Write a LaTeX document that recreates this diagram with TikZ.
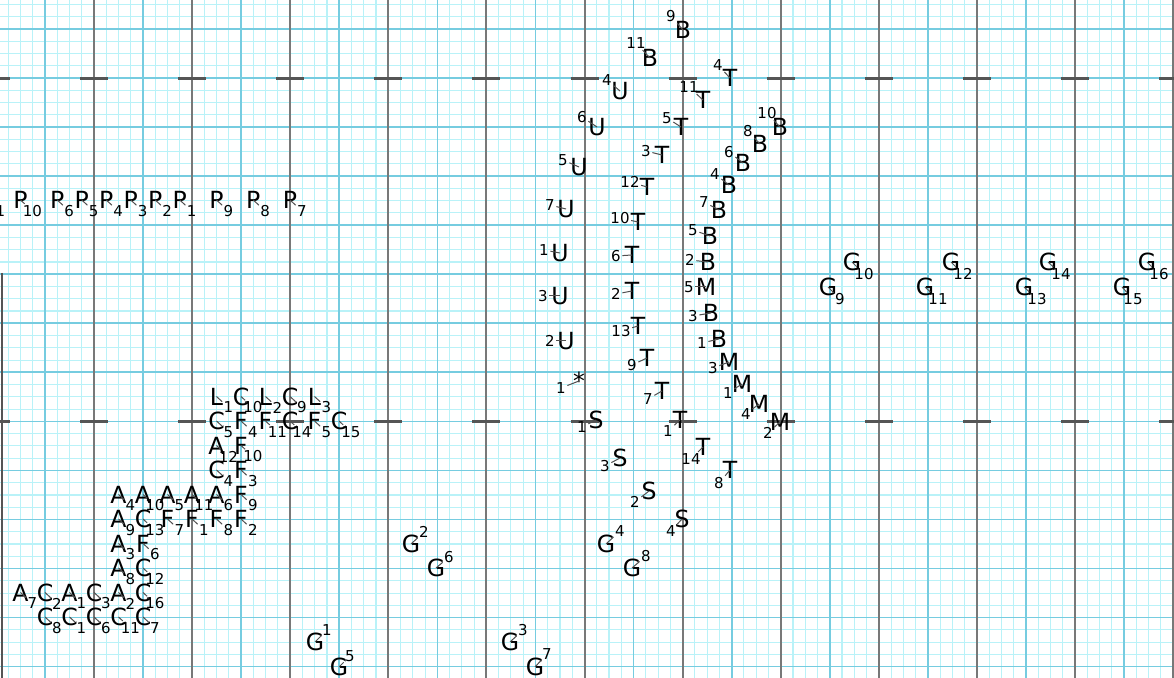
\documentclass[tikz,border=0pt]{standalone}
\usepackage{fontspec}
\setmainfont{DejaVu Sans}
\definecolor{gminor}{RGB}{185,242,248}
\definecolor{gmajor}{RGB}{118,204,224}
\definecolor{ggrey}{RGB}{120,120,120}
\definecolor{gtick}{RGB}{85,85,85}
\definecolor{glead}{RGB}{80,80,80}
\tikzset{
  glyph/.style={inner sep=0pt, font=\fontsize{11.8}{12}\selectfont, text=black},
  numlab/.style={inner sep=0.6pt, font=\fontsize{7.5}{8}\selectfont, text=black},
  lead/.style={draw=glead, line width=0.5pt},
  minorline/.style={draw=gminor, line width=0.55pt},
  majorline/.style={draw=gmajor, line width=0.85pt},
  greyline/.style={draw=ggrey, line width=1pt},
  tickline/.style={draw=gtick, line width=1.5pt}
}
% absolute label position
\newcommand\gl[5]{%
  \node[glyph] (#1) at (#2) {#3};
  \node[numlab] (#1l) at (#4) {#5};
  \draw[lead] (#1.center) -- (#1l);}
% subscript label (lower right)
\newcommand\gs[4]{%
  \node[glyph] (#1) at (#2) {#3};
  \node[numlab] (#1l) at ([shift={(12,11)}]#1.center) {#4};
  \draw[lead] (#1.center) -- (#1l);}
\begin{document}
\begin{tikzpicture}[x=0.5pt,y=-0.5pt]
\useasboundingbox (0,0) rectangle (1174,678);
\clip (0,0) rectangle (1174,678);
\fill[white] (0,0) rectangle (1174,678);
% minor grid
\foreach \i in {-8,...,88} \draw[minorline] ({94+\i*12.2625},0) -- ({94+\i*12.2625},678);
\foreach \j in {-3,...,53} \draw[minorline] (0,{29+\j*12.2625}) -- (1174,{29+\j*12.2625});
% major blue grid
\foreach \i in {0,...,11} \draw[majorline] ({45+\i*98.1},0) -- ({45+\i*98.1},678);
\foreach \j in {0,...,13} \draw[majorline] (0,{29+\j*49.05}) -- (1174,{29+\j*49.05});
% grey verticals
\foreach \i in {0,...,11} \draw[greyline] ({94+\i*98.1},0) -- ({94+\i*98.1},678);
\draw[greyline, draw=gtick] (1.5,273) -- (1.5,678);
% ticks
\foreach \i in {0,...,12} {
  \draw[tickline] ({-4.1+\i*98.1-14},78.05) -- ({-4.1+\i*98.1+14},78.05);
  \draw[tickline] ({-4.1+\i*98.1-14},421.4) -- ({-4.1+\i*98.1+14},421.4);
}
% ---- P row ----
\gs{P11}{-16.25,200}{P}{11}
\gs{P10}{20.5,200}{P}{10}
\gs{P6}{57.25,200}{P}{6}
\gs{P5}{81.75,200}{P}{5}
\gs{P4}{106.25,200}{P}{4}
\gs{P3}{130.75,200}{P}{3}
\gs{P2}{155.25,200}{P}{2}
\gs{P1}{179.75,200}{P}{1}
\gs{P9}{216.5,200}{P}{9}
\gs{P8}{253.25,200}{P}{8}
\gs{P7}{290,200}{P}{7}
% ---- left cluster ----
\gs{cL1}{216.5,396.5}{L}{1}
\gs{cC10}{241,396.5}{C}{10}
\gs{cL2}{265.5,396.5}{L}{2}
\gs{cC9}{290,396.5}{C}{9}
\gs{cL3}{314.5,396.5}{L}{3}
\gs{cC5}{216.5,421}{C}{5}
\gs{cF4}{241,421}{F}{4}
\gs{cF11}{265.5,421}{F}{11}
\gs{cC14}{290,421}{C}{14}
\gs{cF5}{314.5,421}{F}{5}
\gs{cC15}{339,421}{C}{15}
\gs{cA12}{216.5,445.5}{A}{12}
\gs{cF10}{241,445.5}{F}{10}
\gs{cC4}{216.5,470}{C}{4}
\gs{cF3}{241,470}{F}{3}
\gs{cA4}{118.5,494.5}{A}{4}
\gs{cA10}{143,494.5}{A}{10}
\gs{cA5}{167.5,494.5}{A}{5}
\gs{cA11}{192,494.5}{A}{11}
\gs{cA6}{216.5,494.5}{A}{6}
\gs{cF9}{241,494.5}{F}{9}
\gs{cA9}{118.5,519}{A}{9}
\gs{cC13}{143,519}{C}{13}
\gs{cF7}{167.5,519}{F}{7}
\gs{cF1}{192,519}{F}{1}
\gs{cF8}{216.5,519}{F}{8}
\gs{cF2}{241,519}{F}{2}
\gs{cA3}{118.5,543.5}{A}{3}
\gs{cF6}{143,543.5}{F}{6}
\gs{cA8}{118.5,568}{A}{8}
\gs{cC12}{143,568}{C}{12}
\gs{cA7}{20.5,592.5}{A}{7}
\gs{cC2}{45,592.5}{C}{2}
\gs{cA1}{69.5,592.5}{A}{1}
\gs{cC3}{94,592.5}{C}{3}
\gs{cA2}{118.5,592.5}{A}{2}
\gs{cC16}{143,592.5}{C}{16}
\gs{cC8}{45,617}{C}{8}
\gs{cC1}{69.5,617}{C}{1}
\gs{cC6}{94,617}{C}{6}
\gs{cC11}{118.5,617}{C}{11}
\gs{cC7}{143,617}{C}{7}
% ---- central figure ----
\gl{B9}{683,30}{B}{671,16}{9}
\gl{B11}{650,58}{B}{636,43}{11}
\gl{U4}{620,91}{U}{607,80}{4}
\gl{T4}{730,78}{T}{718,65}{4}
\gl{T11}{703,100}{T}{689,87}{11}
\gl{U6}{597,127}{U}{582,117}{6}
\gl{T5}{681,127}{T}{667,118}{5}
\gl{B10}{780,127}{B}{767,113}{10}
\gl{B8}{760,144}{B}{748,131}{8}
\gl{T3}{662,155}{T}{646,151}{3}
\gl{B6}{743,163}{B}{729,152}{6}
\gl{U5}{579,167}{U}{563,160}{5}
\gl{T12}{647,187}{T}{630,182}{12}
\gl{B4}{729,185}{B}{715,174}{4}
\gl{U7}{566,209}{U}{550,205}{7}
\gl{T10}{638,222}{T}{620,218}{10}
\gl{B7}{719,210}{B}{704,202}{7}
\gl{B5}{710,236}{B}{693,230}{5}
\gl{U1}{560,253}{U}{544,250}{1}
\gl{T6}{632,255}{T}{616,256}{6}
\gl{B2}{708,262}{B}{690,260}{2}
\gl{U3}{560,296}{U}{543,296}{3}
\gl{T2}{632,291}{T}{616,294}{2}
\gl{M5}{706,287}{M}{689,287}{5}
\gl{B3}{711,313}{B}{693,316}{3}
\gl{U2}{566,341}{U}{550,341}{2}
\gl{T13}{638,326}{T}{621,331}{13}
\gl{B1}{719,339}{B}{702,343}{1}
\gl{T9}{647,358}{T}{632,365}{9}
\gl{M3}{729,362}{M}{713,368}{3}
\gl{star}{579,381}{*}{561,388}{1}
\gl{T7}{662,391}{T}{648,399}{7}
\gl{M1}{742,384}{M}{728,393}{1}
\gl{M4}{759,404}{M}{746,414}{4}
\gl{M2}{780,422}{M}{768,433}{2}
\gl{S1}{596,420}{S}{582,427}{1}
\gl{T1}{680,420}{T}{668,431}{1}
\gl{T14}{703,447}{T}{691,459}{14}
\gl{S3}{620,458}{S}{605,466}{3}
\gl{T8}{730,470}{T}{719,483}{8}
\gl{S2}{649,491}{S}{635,502}{2}
\gl{S4}{682,519}{S}{671,531}{4}
% ---- G groups ----
\gl{G4}{606,544}{G}{620,531}{4}
\gl{G8}{632,568}{G}{646,556}{8}
\gl{G2}{411,544}{G}{424,532}{2}
\gl{G6}{436,568}{G}{449,557}{6}
\gl{G1}{315,642}{G}{327,630}{1}
\gl{G5}{339,667}{G}{350,656}{5}
\gl{G3}{510,642}{G}{523,630}{3}
\gl{G7}{535,667}{G}{547,654}{7}
\gl{G10}{852,262}{G}{864,274}{10}
\gl{G9}{828,287}{G}{840,299}{9}
\gl{G12}{951,262}{G}{963,274}{12}
\gl{G11}{925,287}{G}{938,299}{11}
\gl{G14}{1048,262}{G}{1061,274}{14}
\gl{G13}{1024,287}{G}{1037,299}{13}
\gl{G16}{1147,262}{G}{1159,274}{16}
\gl{G15}{1122,287}{G}{1133,299}{15}
\end{tikzpicture}
\end{document}
